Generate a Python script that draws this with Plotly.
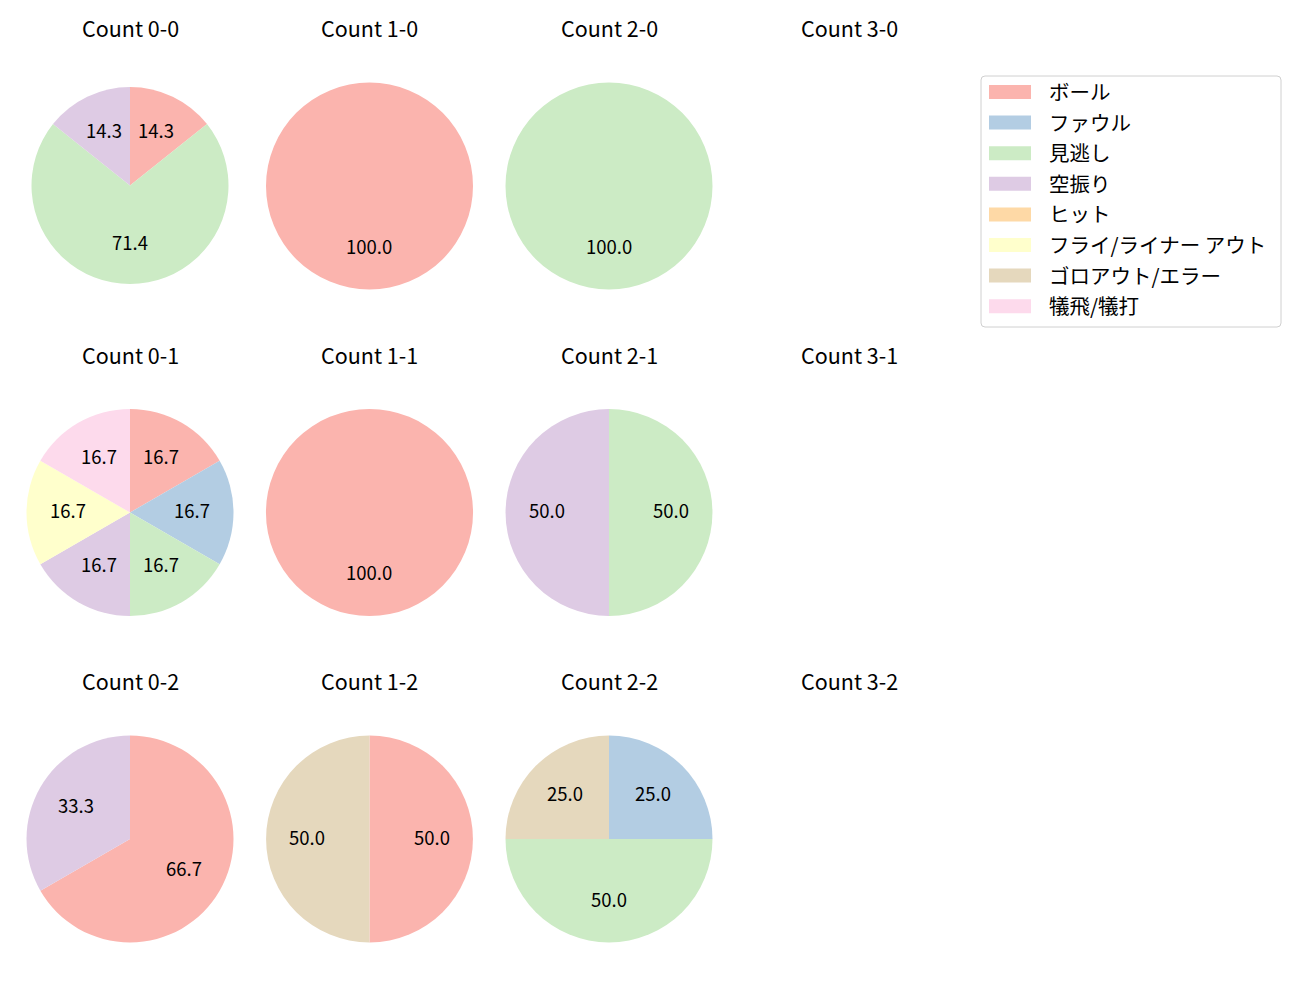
import math
import plotly.graph_objects as go

W, H = 1300, 1000
OFF = 8  # the page body margin pushes the figure 8px right/down

# pitch results per ball-strike count
categories = ['ボール', 'ファウル', '見逃し', '空振り', 'ヒット',
              'フライ/ライナー アウト', 'ゴロアウト/エラー', '犠飛/犠打']
colors = ['#fbb4ae', '#b3cde3', '#ccebc5', '#decbe4',
          '#fed9a6', '#ffffcc', '#e5d8bd', '#fddaec']

counts = ['0-0', '1-0', '2-0', '3-0',
          '0-1', '1-1', '2-1', '3-1',
          '0-2', '1-2', '2-2', '3-2']

ball      = [1, 1, 0, 0, 1, 1, 0, 0, 2, 1, 0, 0]
foul      = [0, 0, 0, 0, 1, 0, 0, 0, 0, 0, 1, 0]
minogashi = [5, 0, 1, 0, 1, 0, 1, 0, 0, 0, 2, 0]
karaburi  = [1, 0, 0, 0, 1, 0, 1, 0, 1, 0, 0, 0]
hit       = [0, 0, 0, 0, 0, 0, 0, 0, 0, 0, 0, 0]
fly       = [0, 0, 0, 0, 1, 0, 0, 0, 0, 0, 0, 0]
goro      = [0, 0, 0, 0, 0, 0, 0, 0, 0, 1, 1, 0]
gihi      = [0, 0, 0, 0, 1, 0, 0, 0, 0, 0, 0, 0]
series = [ball, foul, minogashi, karaburi, hit, fly, goro, gihi]

FONT = 'Noto Sans CJK JP'

# grid layout in pixels (page coordinates)
col_x = [130, 369.5, 609, 849]
row_y = [186, 512.5, 839]
title_y = [27, 354, 680]


def px(x, y):
    return (x - OFF) / W, 1 - (y - OFF) / H


fig = go.Figure()
annotations = []

for i, cnt in enumerate(counts):
    r_i, c_i = divmod(i, 4)
    cx, cy = col_x[c_i], row_y[r_i]
    rad = 103.5
    if cnt == '0-0':
        cx, cy, rad = 130, 185.5, 98.5

    tx, ty = px(cx, title_y[r_i])
    annotations.append(dict(text='Count ' + cnt, x=tx, y=ty, xref='paper', yref='paper',
                            showarrow=False, xanchor='center', yanchor='middle',
                            font=dict(family=FONT, size=21.5, color='black')))

    labels = [categories[k] for k in range(len(categories)) if series[k][i] > 0]
    vals = [series[k][i] for k in range(len(categories)) if series[k][i] > 0]
    cols = [colors[k] for k in range(len(categories)) if series[k][i] > 0]
    if not vals:
        continue

    x0, y1 = px(cx - rad, cy - rad)
    x1, y0 = px(cx + rad, cy + rad)
    fig.add_trace(go.Pie(labels=labels, values=vals, sort=False, direction='clockwise',
                         rotation=0, marker=dict(colors=cols, line=dict(width=0)),
                         textinfo='none', hoverinfo='label+percent', showlegend=False,
                         domain=dict(x=[x0, x1], y=[y0, y1])))

    # percentage labels at 0.6 radius, like autopct
    total = sum(vals)
    acc = 0
    for v in vals:
        mid = (acc + v / 2) / total * 2 * math.pi
        acc += v
        lx, ly = px(cx + 0.6 * rad * math.sin(mid),
                    cy - 0.6 * rad * math.cos(mid) - 2.5)
        annotations.append(dict(text='%.1f' % (100 * v / total), x=lx, y=ly,
                                xref='paper', yref='paper', showarrow=False,
                                xanchor='center', yanchor='middle',
                                font=dict(family=FONT, size=18.5, color='black')))

# legend drawn by hand (matplotlib style)
shapes = []
lx0, ly0, lx1, ly1 = 981 - OFF, 76 - OFF, 1281 - OFF, 327 - OFF
rr = 4
path = (f'M {lx0 + rr},{ly0} L {lx1 - rr},{ly0} Q {lx1},{ly0} {lx1},{ly0 + rr} '
        f'L {lx1},{ly1 - rr} Q {lx1},{ly1} {lx1 - rr},{ly1} L {lx0 + rr},{ly1} '
        f'Q {lx0},{ly1} {lx0},{ly1 - rr} L {lx0},{ly0 + rr} Q {lx0},{ly0} {lx0 + rr},{ly0} Z')
shapes.append(dict(type='path', path=path, xref='x', yref='y',
                   line=dict(color='#d0d0d0', width=1), fillcolor='rgba(255,255,255,0.8)'))
for k, name in enumerate(categories):
    yc = 92 + 30.6 * k - OFF
    shapes.append(dict(type='rect', xref='x', yref='y', x0=989 - OFF, x1=1031 - OFF,
                       y0=yc - 7, y1=yc + 7, line=dict(width=0), fillcolor=colors[k]))
    annotations.append(dict(text=name, x=1047 - OFF, y=yc - 1, xref='x', yref='y',
                            showarrow=False, xanchor='left', yanchor='middle',
                            font=dict(family=FONT, size=20.5, color='black')))

fig.update_layout(
    width=W, height=H,
    margin=dict(l=0, r=0, t=0, b=0),
    paper_bgcolor='white', plot_bgcolor='rgba(0,0,0,0)',
    xaxis=dict(range=[0, W], visible=False, fixedrange=True),
    yaxis=dict(range=[H, 0], visible=False, fixedrange=True),
    shapes=shapes, annotations=annotations,
)

fig.write_html("out.html")
